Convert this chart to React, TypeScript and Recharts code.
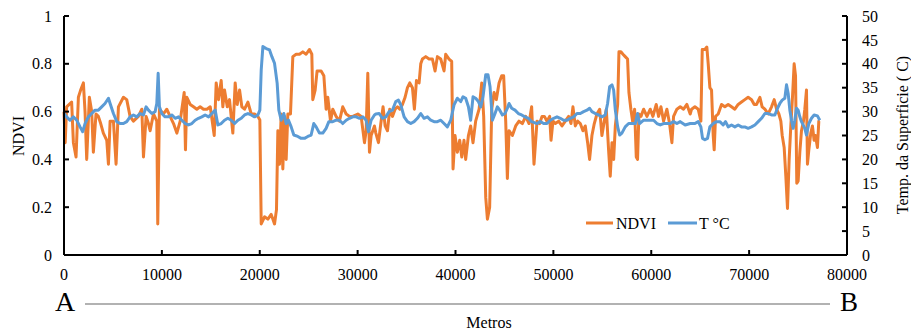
import React from "react";
import { LineChart, Line, XAxis, YAxis } from "recharts";

// [distance in metros, NDVI]
const NDVI_POINTS: [number, number][] = [
  [0, 0.6], [120, 0.47], [270, 0.62], [780, 0.64], [960, 0.47], [1230, 0.41], [1470, 0.66], [1700, 0.69],
  [1980, 0.72], [2150, 0.6], [2320, 0.4], [2590, 0.66], [2830, 0.6], [3000, 0.43], [3270, 0.59], [3510, 0.58],
  [3750, 0.55], [4020, 0.51], [4370, 0.48], [4540, 0.38], [4710, 0.56], [5050, 0.56], [5320, 0.38], [5560, 0.62],
  [6070, 0.66], [6410, 0.65], [6750, 0.58], [7090, 0.56], [7600, 0.58], [7950, 0.61], [8120, 0.41], [8390, 0.58],
  [8630, 0.55], [8800, 0.52], [9140, 0.59], [9480, 0.56], [9580, 0.13], [9750, 0.61], [10160, 0.59], [10500, 0.61],
  [10840, 0.58], [11190, 0.55], [11530, 0.51], [11870, 0.56], [12280, 0.68], [12410, 0.44], [12550, 0.66], [12890, 0.63],
  [13230, 0.62], [13570, 0.61], [13910, 0.62], [14250, 0.61], [14600, 0.61], [14940, 0.62], [15350, 0.5], [15550, 0.72],
  [15790, 0.65], [16060, 0.73], [16230, 0.62], [16400, 0.69], [16680, 0.62], [16910, 0.65], [17250, 0.51], [17490, 0.72],
  [17700, 0.63], [17940, 0.69], [18170, 0.62], [18450, 0.61], [18790, 0.64], [19130, 0.59], [19470, 0.59], [19810, 0.58],
  [20010, 0.565], [20150, 0.13], [20490, 0.16], [20830, 0.15], [21170, 0.17], [21510, 0.13], [21710, 0.19], [21850, 0.52],
  [22020, 0.38], [22190, 0.59], [22360, 0.36], [22530, 0.58], [22700, 0.4], [22870, 0.59], [23140, 0.59], [23380, 0.83],
  [23720, 0.84], [24060, 0.84], [24400, 0.85], [24740, 0.84], [25080, 0.86], [25320, 0.84], [25420, 0.65], [25660, 0.69],
  [25860, 0.77], [26270, 0.77], [26550, 0.75], [26780, 0.61], [26950, 0.66], [27230, 0.56], [27460, 0.61], [27800, 0.58],
  [28140, 0.56], [28480, 0.62], [28830, 0.59], [29170, 0.58], [29510, 0.58], [30020, 0.59], [30360, 0.58], [30700, 0.47],
  [30870, 0.52], [31040, 0.76], [31210, 0.43], [31380, 0.5], [31720, 0.54], [31860, 0.51], [32130, 0.47], [32370, 0.55],
  [32600, 0.62], [32810, 0.54], [33050, 0.52], [33280, 0.61], [33560, 0.58], [33830, 0.61], [34070, 0.62], [34310, 0.61],
  [34580, 0.63], [34850, 0.66], [35090, 0.7], [35330, 0.72], [35600, 0.7], [35800, 0.61], [36010, 0.73], [36280, 0.72],
  [36450, 0.8], [36620, 0.82], [36960, 0.83], [37300, 0.82], [37640, 0.82], [37910, 0.77], [38150, 0.83], [38490, 0.82],
  [38830, 0.77], [39000, 0.84], [39340, 0.82], [39610, 0.81], [39750, 0.36], [39950, 0.5], [40190, 0.43], [40430, 0.48],
  [40640, 0.41], [40870, 0.48], [41040, 0.4], [41320, 0.5], [41550, 0.54], [41790, 0.47], [42060, 0.56], [42410, 0.61],
  [42680, 0.72], [42880, 0.58], [43090, 0.24], [43260, 0.15], [43490, 0.2], [43700, 0.61], [43940, 0.68], [44170, 0.65],
  [44450, 0.72], [44720, 0.75], [44920, 0.75], [45130, 0.56], [45300, 0.32], [45470, 0.52], [45810, 0.5], [46150, 0.54],
  [46490, 0.56], [46830, 0.55], [47170, 0.58], [47510, 0.55], [47780, 0.62], [48020, 0.38], [48330, 0.56], [48600, 0.55],
  [48840, 0.58], [49080, 0.58], [49350, 0.56], [49620, 0.58], [49760, 0.48], [49960, 0.56], [50200, 0.55], [50540, 0.56],
  [50880, 0.54], [51220, 0.56], [51560, 0.58], [51800, 0.55], [52000, 0.62], [52240, 0.54], [52480, 0.56], [52750, 0.55],
  [53020, 0.52], [53260, 0.54], [53500, 0.47], [53700, 0.4], [53940, 0.5], [54180, 0.55], [54450, 0.59], [54730, 0.61],
  [54960, 0.5], [55200, 0.56], [55410, 0.61], [55640, 0.44], [55810, 0.33], [55990, 0.47], [56160, 0.4], [56330, 0.54],
  [56570, 0.63], [56700, 0.85], [56900, 0.85], [57110, 0.84], [57340, 0.83], [57580, 0.82], [57720, 0.68], [57920, 0.61],
  [58130, 0.55], [58300, 0.61], [58470, 0.41], [58600, 0.4], [58740, 0.59], [58950, 0.58], [59220, 0.61], [59560, 0.58],
  [59900, 0.61], [60170, 0.58], [60510, 0.63], [60750, 0.58], [60990, 0.62], [61260, 0.56], [61600, 0.61], [61870, 0.55],
  [62110, 0.47], [62280, 0.58], [62620, 0.61], [62960, 0.62], [63300, 0.61], [63640, 0.63], [63980, 0.59], [64120, 0.61],
  [64460, 0.62], [64800, 0.61], [65070, 0.56], [65210, 0.86], [65480, 0.86], [65680, 0.87], [65820, 0.8], [65990, 0.7],
  [66160, 0.69], [66330, 0.5], [66430, 0.44], [66570, 0.58], [66840, 0.59], [67180, 0.63], [67520, 0.62], [67860, 0.63],
  [68200, 0.62], [68540, 0.61], [68880, 0.63], [69220, 0.64], [69560, 0.65], [69900, 0.66], [70250, 0.65], [70520, 0.63],
  [70760, 0.63], [71100, 0.66], [71330, 0.62], [71610, 0.61], [71950, 0.59], [72290, 0.62], [72560, 0.65], [72800, 0.61],
  [73040, 0.59], [73240, 0.56], [73380, 0.5], [73580, 0.45], [73750, 0.33], [73920, 0.195], [74090, 0.4], [74260, 0.54],
  [74430, 0.66], [74600, 0.8], [74740, 0.75], [74870, 0.3], [75010, 0.31], [75180, 0.43], [75350, 0.52], [75550, 0.56],
  [75690, 0.61], [75860, 0.69], [75960, 0.38], [76100, 0.44], [76300, 0.51], [76470, 0.54], [76640, 0.48], [76780, 0.5],
  [76980, 0.45], [77120, 0.56], [77220, 0.56],
];

// [distance in metros, T °C]
const TEMP_POINTS: [number, number][] = [
  [0, 29.6], [270, 28.9], [610, 28.2], [960, 28.9], [1300, 28.2], [1640, 26.8], [1910, 25.8], [2150, 27.5],
  [2490, 28.9], [2830, 29.6], [3170, 30.3], [3510, 30.3], [3850, 31.0], [4190, 31.7], [4540, 32.8], [4710, 31.7],
  [5050, 29.6], [5390, 27.9], [5730, 27.5], [6070, 27.5], [6410, 27.9], [6750, 28.9], [7090, 29.3], [7430, 28.9],
  [7770, 29.6], [8120, 29.3], [8390, 31.0], [8630, 30.3], [8970, 29.6], [9310, 30.0], [9480, 31.7], [9620, 38.0],
  [9750, 31.0], [9990, 29.6], [10330, 28.9], [10670, 28.9], [11010, 29.3], [11360, 28.6], [11700, 28.9], [12040, 28.2],
  [12380, 27.5], [12720, 27.2], [13060, 27.5], [13400, 28.2], [13740, 28.6], [14080, 28.9], [14420, 29.3], [14770, 28.9],
  [15110, 29.6], [15450, 30.3], [15720, 27.2], [16060, 27.5], [16400, 28.2], [16740, 28.6], [17080, 28.2], [17430, 27.5],
  [17770, 28.2], [18110, 28.6], [18450, 29.3], [18790, 29.6], [19130, 29.3], [19470, 28.9], [19810, 29.3], [20010, 30.3],
  [20150, 38.7], [20320, 43.6], [20660, 43.2], [21000, 42.9], [21240, 41.5], [21510, 40.1], [21780, 35.9], [21950, 30.3],
  [22190, 28.2], [22460, 29.6], [22700, 27.5], [22940, 28.2], [23210, 26.8], [23480, 25.1], [23890, 24.8], [24230, 24.4],
  [24570, 24.4], [24910, 24.8], [25250, 25.1], [25520, 27.5], [25760, 26.8], [26100, 25.5], [26440, 25.5], [26780, 26.5],
  [27060, 27.9], [27460, 27.9], [27800, 28.2], [28140, 28.2], [28480, 27.5], [28830, 28.2], [29170, 28.6], [29510, 28.9],
  [29850, 28.9], [30190, 28.6], [30530, 28.9], [30870, 28.2], [31110, 25.8], [31380, 28.2], [31720, 29.3], [31860, 29.5],
  [32200, 29.6], [32540, 28.6], [32880, 28.9], [33220, 30.0], [33560, 30.3], [33900, 32.1], [34170, 32.4], [34410, 31.4],
  [34750, 28.9], [35090, 27.9], [35430, 27.5], [35770, 27.9], [36110, 28.6], [36450, 29.6], [36790, 28.6], [37130, 28.9],
  [37470, 28.2], [37810, 27.9], [38150, 27.9], [38490, 28.2], [38830, 27.5], [39170, 26.8], [39510, 28.2], [39850, 31.4],
  [40190, 32.8], [40530, 32.1], [40770, 33.1], [41040, 32.8], [41320, 31.0], [41550, 28.2], [41790, 33.1], [42060, 32.8],
  [42340, 32.1], [42580, 31.0], [42810, 33.1], [43090, 37.7], [43320, 37.7], [43530, 35.2], [43770, 28.2], [44040, 29.6],
  [44280, 31.0], [44520, 30.3], [44790, 29.3], [45060, 29.6], [45300, 30.7], [45470, 31.7], [45740, 30.7], [46080, 30.3],
  [46420, 29.6], [46760, 29.3], [47100, 28.9], [47440, 28.6], [47780, 27.9], [48330, 27.5], [48670, 27.9], [49010, 27.5],
  [49350, 27.5], [49690, 28.2], [50030, 28.6], [50370, 28.9], [50710, 28.6], [51050, 28.2], [51390, 28.2], [51730, 28.6],
  [52070, 28.9], [52410, 29.6], [52750, 29.6], [53090, 30.0], [53430, 30.3], [53700, 30.7], [53940, 30.0], [54280, 29.6],
  [54620, 29.3], [54960, 28.9], [55300, 29.3], [55540, 31.7], [55750, 35.2], [55990, 35.6], [56160, 34.5], [56330, 30.3],
  [56570, 26.8], [56770, 25.1], [57000, 25.5], [57340, 26.8], [57690, 27.5], [58030, 27.5], [58370, 27.5], [58600, 29.6],
  [58810, 27.5], [59220, 28.2], [59730, 28.2], [60240, 28.2], [60580, 27.5], [60920, 27.2], [61260, 27.5], [61600, 27.5],
  [61940, 27.5], [62280, 27.9], [62620, 27.5], [62960, 27.9], [63470, 27.2], [63980, 27.5], [64460, 27.5], [64800, 27.9],
  [65070, 26.8], [65240, 24.4], [65480, 24.1], [65750, 24.4], [65990, 26.8], [66330, 27.5], [66670, 27.9], [67010, 27.9],
  [67350, 27.2], [67590, 27.9], [67860, 26.8], [68200, 27.2], [68540, 26.8], [68880, 27.2], [69220, 26.8], [69560, 26.8],
  [69900, 26.5], [70250, 26.8], [70590, 27.2], [70930, 27.9], [71270, 28.6], [71610, 29.6], [71950, 29.6], [72290, 29.3],
  [72630, 29.3], [72900, 30.7], [73140, 31.7], [73380, 32.4], [73650, 32.8], [73820, 35.6], [73990, 33.8], [74160, 30.3],
  [74330, 28.2], [74500, 26.5], [74670, 28.2], [74840, 30.7], [75010, 30.3], [75180, 28.9], [75350, 27.9], [75690, 26.5],
  [75860, 25.1], [76100, 27.5], [76370, 28.6], [76640, 29.3], [76980, 29.1], [77220, 28.2],
];

const X_TICKS = [0, 10000, 20000, 30000, 40000, 50000, 60000, 70000, 80000];
const NDVI_TICKS = [0, 0.2, 0.4, 0.6, 0.8, 1];
const TEMP_TICKS = [0, 5, 10, 15, 20, 25, 30, 35, 40, 45, 50];

const ORANGE = "#ED7D31";
const BLUE = "#5B9BD5";
const FONT = "'Liberation Serif', 'Times New Roman', serif";

const W = 911;
const H = 332;

const ndviData = NDVI_POINTS.map(([m, v]) => ({ m, v }));
const tempData = TEMP_POINTS.map(([m, v]) => ({ m, v }));

const tickStyle = { fill: "#000", fontSize: 16, fontFamily: FONT };
const axisLine = { stroke: "#000", strokeWidth: 2 };

export default function App() {
  return (
    <div style={{ position: "relative", width: W, height: H, background: "#fff" }}>
      <style>{"body{margin:0}"}</style>
      <LineChart width={W} height={H} margin={{ top: 16, right: 0, bottom: 47, left: 0 }}>
        <XAxis
          type="number"
          dataKey="m"
          domain={[0, 80000]}
          ticks={X_TICKS}
          height={30}
          axisLine={axisLine}
          tickLine={axisLine}
          tickSize={-5}
          tickMargin={19}
          tick={tickStyle}
          interval={0}
        />
        <YAxis
          yAxisId="left"
          domain={[0, 1]}
          ticks={NDVI_TICKS}
          width={64}
          axisLine={axisLine}
          tickLine={axisLine}
          tickSize={-5}
          tickMargin={17}
          tick={tickStyle}
          interval={0}
        />
        <YAxis
          yAxisId="right"
          orientation="right"
          domain={[0, 50]}
          ticks={TEMP_TICKS}
          width={64}
          axisLine={axisLine}
          tickLine={axisLine}
          tickSize={-5}
          tickMargin={20}
          tick={{ ...tickStyle, textAnchor: "start" }}
          interval={0}
        />
        <Line
          yAxisId="left"
          data={ndviData}
          dataKey="v"
          type="linear"
          stroke={ORANGE}
          strokeWidth={3}
          strokeLinejoin="round"
          dot={false}
          isAnimationActive={false}
        />
        <Line
          yAxisId="right"
          data={tempData}
          dataKey="v"
          type="linear"
          stroke={BLUE}
          strokeWidth={3}
          strokeLinejoin="round"
          dot={false}
          isAnimationActive={false}
        />
      </LineChart>

      <svg
        width={W}
        height={H}
        style={{ position: "absolute", left: 0, top: 0, pointerEvents: "none" }}
        fontFamily={FONT}
      >
        {/* axis titles */}
        <text x={18} y={136} transform="rotate(-90 18 136)" textAnchor="middle" dominantBaseline="central" fontSize={16} fill="#000">
          NDVI
        </text>
        <text x={902} y={135} transform="rotate(-90 902 135)" textAnchor="middle" dominantBaseline="central" fontSize={16} fill="#000">
          Temp. da Superficie ( C)
        </text>

        {/* legend */}
        <line x1={586} y1={223} x2={613} y2={223} stroke={ORANGE} strokeWidth={3} />
        <text x={616} y={223} dominantBaseline="central" fontSize={16} fill="#000">NDVI</text>
        <line x1={668} y1={223} x2={697} y2={223} stroke={BLUE} strokeWidth={3} />
        <text x={699} y={223} dominantBaseline="central" fontSize={16} fill="#000">T °C</text>

        {/* A — B transect */}
        <text x={55} y={311} fontSize={28} fill="#000">A</text>
        <line x1={85} y1={304} x2={830} y2={304} stroke="#666" strokeWidth={1.2} />
        <text x={840} y={311} fontSize={27} fill="#000">B</text>
        <text x={489} y={328} textAnchor="middle" fontSize={16} fill="#000">Metros</text>
      </svg>
    </div>
  );
}
